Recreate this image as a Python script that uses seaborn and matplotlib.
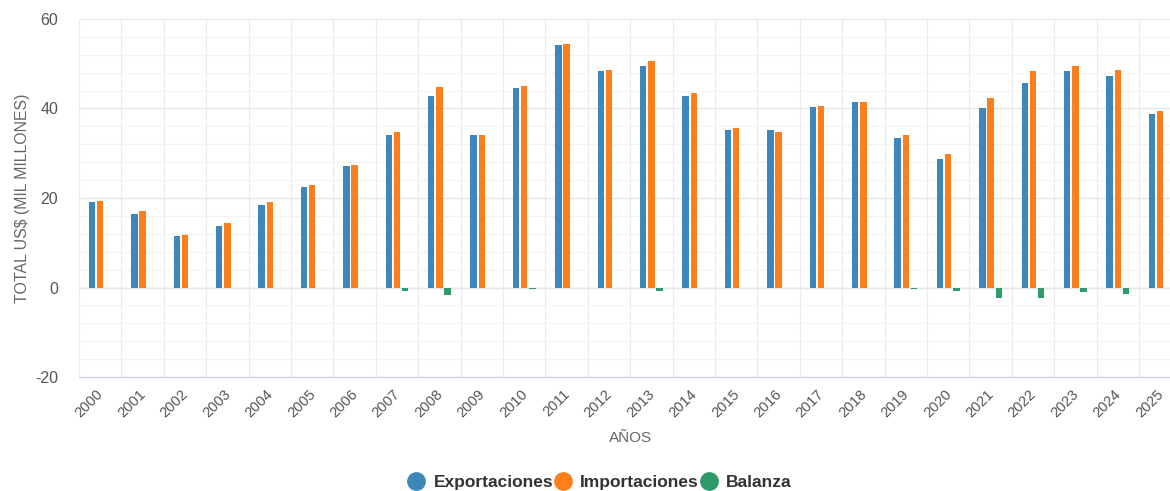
import matplotlib
matplotlib.use("Agg")
import matplotlib.pyplot as plt
import matplotlib.transforms as mtransforms
import seaborn as sns
import pandas as pd
import numpy as np
from matplotlib.lines import Line2D

years = [str(y) for y in range(2000, 2026)]
exportaciones = [19.0, 16.4, 11.5, 13.8, 18.4, 22.5, 27.1, 34.0, 42.9, 34.0,
                 44.6, 54.1, 48.4, 49.5, 42.9, 35.1, 35.1, 40.3, 41.4, 33.4,
                 28.8, 40.0, 45.7, 48.4, 47.2, 38.8]
importaciones = [19.3, 17.0, 11.8, 14.4, 19.0, 22.8, 27.4, 34.8, 44.9, 34.0,
                 45.1, 54.4, 48.7, 50.6, 43.4, 35.7, 34.8, 40.6, 41.4, 34.0,
                 29.9, 42.3, 48.4, 49.5, 48.7, 39.4]
balanza = [0.0, 0.0, 0.0, 0.0, 0.0, 0.0, 0.0, -0.7, -1.7, 0.0,
           -0.3, 0.0, 0.0, -0.7, 0.0, 0.0, 0.0, 0.0, 0.0, -0.3,
           -0.7, -2.3, -2.3, -0.9, -1.4, 0.0]
series_names = ["Exportaciones", "Importaciones", "Balanza"]
colors = ["#3d87bb", "#fd7f1b", "#2f9a6b"]

df = pd.DataFrame({
    "Año": years * 3,
    "Valor": exportaciones + importaciones + balanza,
    "Serie": [series_names[0]] * len(years) + [series_names[1]] * len(years) + [series_names[2]] * len(years),
})

sns.set_theme(style="white")
plt.rcParams["font.family"] = ["Liberation Sans", "DejaVu Sans"]
plt.rcParams["axes.unicode_minus"] = False

fig = plt.figure(figsize=(11.7, 4.91), dpi=100)
ax = fig.add_axes([79 / 1170, 1 - 377 / 491, (26 * 42.4) / 1170, (377 - 19) / 491])

sns.barplot(data=df, x="Año", y="Valor", hue="Serie", palette=colors,
            width=0.58, gap=0.22, ax=ax, legend=False, saturation=1,
            linewidth=0)

ax.set_xlim(-0.5, 25.5)
ax.set_ylim(-20, 60)
ax.set_yticks([-20, 0, 20, 40, 60])
ax.set_yticks(np.arange(-20, 61, 4), minor=True)
ax.set_xticks(np.arange(-0.5, 26, 1), minor=True)
ax.grid(True, which="major", axis="y", color="#e6e6e6", linewidth=1.0)
ax.grid(True, which="minor", axis="y", color="#f2f2f2", linewidth=0.9)
ax.grid(True, which="minor", axis="x", color="#ebebeb", linewidth=0.9)
ax.set_axisbelow(True)
ax.axhline(0, color="#e0e0e0", linewidth=1.0, zorder=0.5)

for s in ["top", "right", "left"]:
    ax.spines[s].set_visible(False)
ax.spines["bottom"].set_color("#ccd6eb")
ax.spines["bottom"].set_linewidth(1.0)

ax.tick_params(axis="both", which="both", length=0)
ax.tick_params(axis="y", labelsize=11.5, labelcolor="#555555", pad=15)
ax.tick_params(axis="x", labelsize=10.5, labelcolor="#555555", pad=7)
offset = mtransforms.ScaledTranslation(-4 / 100, 0, fig.dpi_scale_trans)
for lbl in ax.get_xticklabels():
    lbl.set_rotation(45)
    lbl.set_ha("right")
    lbl.set_rotation_mode("anchor")
    lbl.set_transform(lbl.get_transform() + offset)

ax.set_xlabel("AÑOS", fontsize=11, color="#666666", labelpad=8)
ax.set_ylabel("TOTAL US$ (MIL MILLONES)", fontsize=11.4, color="#666666", labelpad=4)

handles = [Line2D([0], [0], marker="o", linestyle="", markersize=12.5,
                  markerfacecolor=c, markeredgecolor=c) for c in colors]
leg = fig.legend(handles, series_names, loc="center", bbox_to_anchor=(0.5125, 1 - 482 / 491),
                 ncol=3, frameon=False, handletextpad=0.5, columnspacing=0.05,
                 handlelength=1.0, prop={"weight": "bold", "size": 12.5})
for t in leg.get_texts():
    t.set_color("#333333")

fig.savefig("out.png", dpi=100)
